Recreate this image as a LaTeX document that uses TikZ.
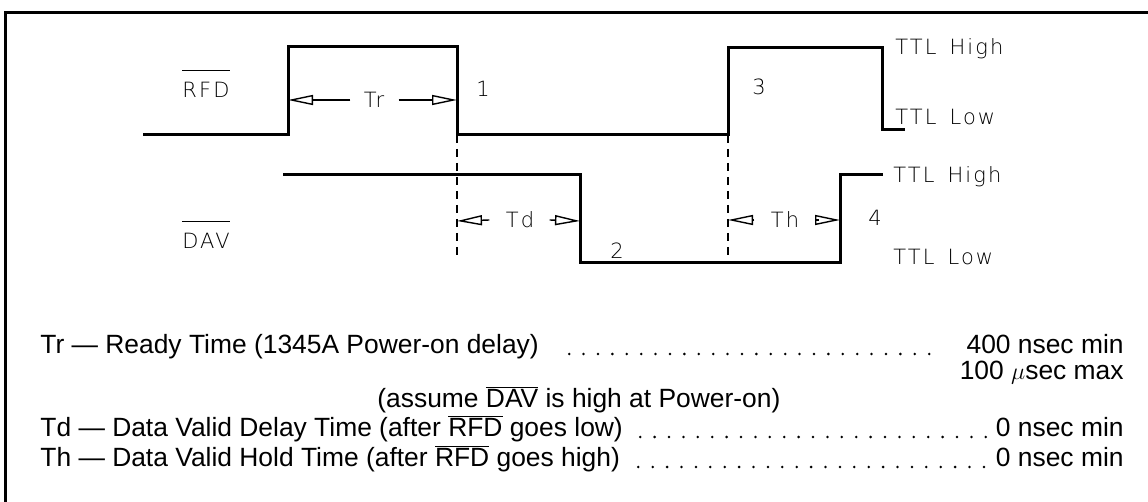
\documentclass[tikz,border=0pt]{standalone}
\usepackage{fontspec}
\setmainfont{Liberation Sans}
\IfFontExistsTF{DejaVu Sans ExtraLight}{%
  \newfontfamily\plotfont{DejaVu Sans ExtraLight}[LetterSpace=10]}{%
  \newfontfamily\plotfont{DejaVu Sans}[LetterSpace=10]}
\usetikzlibrary{arrows.meta}
\newcommand{\ovl}[1]{$\overline{\mbox{#1}}$}
\newcommand{\wsp}{\hspace{6.5pt}}
\tikzset{
  wave/.style={line width=1.5pt, line join=miter},
  frame/.style={line width=1.5pt},
  dashv/.style={line width=0.7pt, dash pattern=on 4pt off 3pt},
  dimarr/.style={line width=0.7pt, -{Triangle[open, length=12.5pt, width=5pt]}},
  plab/.style={inner sep=0pt, font=\plotfont\fontsize{10.5}{12}\selectfont},
  body/.style={inner sep=0pt, font=\fontsize{13.2}{15}\selectfont},
  leader/.style={line width=1.4pt, line cap=round, dash pattern=on 0pt off 7.2pt}
}
\begin{document}
\begin{tikzpicture}[x=0.5pt, y=-0.5pt]
\useasboundingbox (0,0) rectangle (1148,502);
% frame
\draw[frame] (1148,13) -- (5,13) -- (5,502);
% edge points used by the timing arrows
\coordinate (rA) at (288,100);
\coordinate (rB) at (457,100);
\coordinate (dA) at (457,221);
\coordinate (dB) at (580,221);
\coordinate (hA) at (728,220);
\coordinate (hB) at (840,220);
% RFD waveform
\draw[wave] (143,135) -- (288,135) -- (288,47) -- (457,47) -- (457,135) -- (728,135) -- (728,48) -- (882,48) -- (882,130) -- (905,130);
% DAV waveform
\draw[wave] (283,175) -- (580,175) -- (580,263) -- (840,263) -- (840,175) -- (883,175);
% dashed verticals
\draw[dashv] (457,135) -- (457,258);
\draw[dashv] (728,135) -- (728,258);
% signal labels
\node[plab] (rfd) at (206,89.5) {RFD};
\draw[line width=0.7pt] ([yshift=5.5pt]rfd.north west) -- ([yshift=5.5pt]rfd.north east);
\node[plab] (dav) at (206,240.5) {DAV};
\draw[line width=0.7pt] ([yshift=5.5pt]dav.north west) -- ([yshift=5.5pt]dav.north east);
% level labels
\node[plab, anchor=base west] (rh) at (895,55) {TTL\wsp High};
\node[plab, anchor=base west] (rl) at (895,125) {TTL\wsp Low};
\node[plab, anchor=base west] (dh) at (893,183) {TTL\wsp High};
\node[plab, anchor=base west] (dl) at (893,265) {TTL\wsp Low};
% event numbers
\node[plab, anchor=base west] (n1) at (476,97) {1};
\node[plab, anchor=base west] (n3) at (752,95) {3};
\node[plab, anchor=base west] (n2) at (610,259) {2};
\node[plab, anchor=base west] (n4) at (868,226) {4};
% timing arrows
\node[plab] (tr) at (374,100) {Tr};
\draw[dimarr] ([xshift=-6.5pt]tr.west) -- (rA);
\draw[dimarr] ([xshift=7pt]tr.east) -- (rB);
\node[plab] (td) at (520,220) {Td};
\draw[dimarr] ([xshift=-8pt]td.west) -- (dA);
\draw[dimarr] ([xshift=7.5pt]td.east) -- (dB);
\node[plab] (th) at (785,220) {Th};
\draw[dimarr] ([xshift=-8pt]th.west) -- (hA);
\draw[dimarr] ([xshift=9.5pt]th.east) -- (hB);
% specification text
\node[body, anchor=base west] (trt) at (40,354) {Tr --- Ready Time (1345A Power-on delay)};
\node[body, anchor=base east] (trv) at (1124,354) {400 nsec min};
\node[body, anchor=base east] (trm) at (1124,380) {100 $\mu$sec max};
\node[body, anchor=base west] (asm) at (377,408) {(assume \ovl{DAV} is high at Power-on)};
\node[body, anchor=base west] (tdt) at (40,437) {Td --- Data Valid Delay Time (after \ovl{RFD} goes low)};
\node[body, anchor=base east] (tdv) at (1124,437) {0 nsec min};
\node[body, anchor=base west] (tht) at (40,467) {Th --- Data Valid Hold Time (after \ovl{RFD} goes high)};
\node[body, anchor=base east] (thv) at (1124,467) {0 nsec min};
\draw[leader, shorten <=15pt, shorten >=17pt] (trt.base east) -- (trv.base west);
\draw[leader, shorten <=8.5pt, shorten >=4.5pt] (tdt.base east) -- (tdv.base west);
\draw[leader, shorten <=9pt, shorten >=4.5pt] (tht.base east) -- (thv.base west);
\end{tikzpicture}
\end{document}
